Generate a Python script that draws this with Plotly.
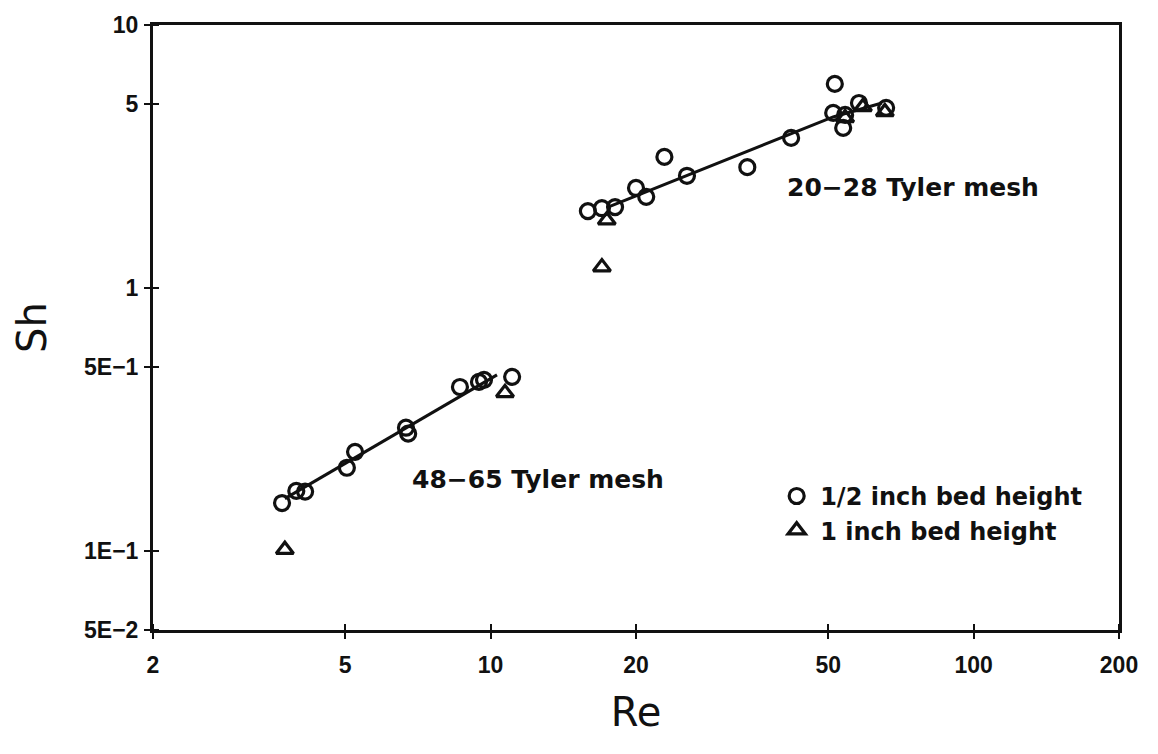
import math
import plotly.graph_objects as go

# Mass-transfer data: Sherwood number vs Reynolds number, two particle sizes
# 48-65 Tyler mesh (fine particles)
re_half_fine = [3.70, 3.96, 4.13, 5.04, 5.24, 6.68, 6.75, 8.64, 9.46, 9.69, 11.08]
sh_half_fine = [0.152, 0.169, 0.168, 0.207, 0.238, 0.294, 0.279, 0.420, 0.439, 0.447, 0.459]
re_one_fine = [3.75, 10.71]
sh_one_fine = [0.101, 0.399]

# 20-28 Tyler mesh (coarse particles)
re_half_coarse = [15.9, 17.0, 18.1, 20.0, 21.0, 22.9, 25.5, 34.0, 41.9, 51.2, 54.2, 53.7, 51.6, 57.9, 65.9]
sh_half_coarse = [1.96, 2.01, 2.03, 2.40, 2.22, 3.15, 2.67, 2.88, 3.72, 4.63, 4.55, 4.06, 5.97, 5.05, 4.84]
re_one_coarse = [17.4, 17.0, 54.2, 59.0, 65.5]
sh_one_coarse = [1.81, 1.20, 4.43, 4.88, 4.67]

# Correlation lines
fit_fine_re = [3.75, 10.31]
fit_fine_sh = [0.158, 0.467]
fit_coarse_re = [17.5, 51.2, 64.6]
fit_coarse_sh = [2.03, 4.47, 5.05]

# Axis ticks
x_ticks = [2, 5, 10, 20, 50, 100, 200]
x_labels = ["2", "5", "10", "20", "50", "100", "200"]
y_ticks = [10, 5, 1, 0.5, 0.1, 0.05]
y_labels = ["10", "5", "1", "5E\u22121", "1E\u22121", "5E\u22122"]

INK = "#111111"
TEXT_FONT = "DejaVu Sans"
TICK_FONT = "Liberation Sans"

fig = go.Figure()

for xs, ys in ((fit_fine_re, fit_fine_sh), (fit_coarse_re, fit_coarse_sh)):
    fig.add_trace(go.Scatter(
        x=xs, y=ys, mode="lines", showlegend=False, hoverinfo="skip",
        line=dict(color=INK, width=3),
    ))

fig.add_trace(go.Scatter(
    x=re_half_fine + re_half_coarse, y=sh_half_fine + sh_half_coarse,
    mode="markers", name="1/2 inch bed height",
    marker=dict(symbol="circle-open", size=15, color=INK, line=dict(width=3.2, color=INK)),
))
fig.add_trace(go.Scatter(
    x=re_one_fine + re_one_coarse, y=sh_one_fine + sh_one_coarse,
    mode="markers", name="1 inch bed height",
    marker=dict(symbol="triangle-up-open", size=15, color=INK, line=dict(width=3.2, color=INK)),
))

label_font = dict(family=TEXT_FONT, size=25, color=INK, weight="bold")
fig.add_annotation(x=math.log10(40.7), y=math.log10(2.40), text="20\u221228 Tyler mesh",
                   xanchor="left", yanchor="middle", showarrow=False, font=label_font)
fig.add_annotation(x=math.log10(6.81), y=math.log10(0.186), text="48\u221265 Tyler mesh",
                   xanchor="left", yanchor="middle", showarrow=False, font=label_font)

axis_common = dict(
    type="log", showgrid=False, zeroline=False,
    showline=True, linecolor=INK, linewidth=3, mirror=True,
    ticks="outside", ticklen=6, tickwidth=2, tickcolor=INK,
    tickfont=dict(family=TICK_FONT, size=23, color=INK, weight="bold"),
)

fig.update_xaxes(
    **axis_common,
    range=[math.log10(2), math.log10(200)],
    tickmode="array", tickvals=x_ticks, ticktext=x_labels,
    minor=dict(tickmode="array", tickvals=x_ticks, ticks="inside", ticklen=6,
               tickwidth=2, tickcolor=INK),
    ticklabelstandoff=6,
    title=dict(text="Re", font=dict(family=TEXT_FONT, size=40, color=INK), standoff=22),
)
fig.update_yaxes(
    **axis_common,
    range=[math.log10(0.05), 1],
    tickmode="array", tickvals=y_ticks, ticktext=y_labels,
    minor=dict(tickmode="array", tickvals=y_ticks, ticks="inside", ticklen=6,
               tickwidth=2, tickcolor=INK),
    ticklabelstandoff=1,
    title=dict(text="Sh", font=dict(family=TEXT_FONT, size=40, color=INK), standoff=26),
)

fig.update_layout(
    width=1158, height=754,
    margin=dict(l=153, r=39, t=25, b=124),
    paper_bgcolor="white", plot_bgcolor="white",
    showlegend=True,
    legend=dict(x=0.642, y=0.258, xanchor="left", yanchor="top",
                bgcolor="rgba(0,0,0,0)", borderwidth=0,
                font=dict(family=TEXT_FONT, size=24, color=INK, weight="bold"),
                itemsizing="trace", itemwidth=37, tracegroupgap=0),
)

fig.write_html("out.html")
